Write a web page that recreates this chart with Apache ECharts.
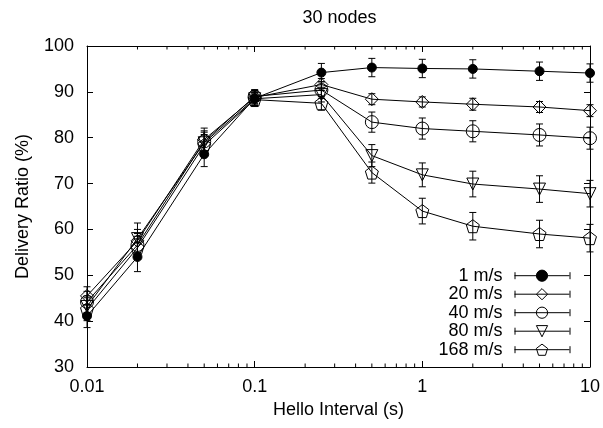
<!DOCTYPE html>
<html><head><meta charset="utf-8">
<script src="https://cdn.jsdelivr.net/npm/echarts@6/dist/echarts.min.js"></script>
<style>html,body{margin:0;padding:0;background:#fff}#c{width:603px;height:428px}</style>
</head><body><div id="c"></div>
<script>
// ---- data ----
const hello = [0.01, 0.02, 0.05, 0.1, 0.25, 0.5, 1, 2, 5, 10];
const speeds = ['1 m/s', '20 m/s', '40 m/s', '80 m/s', '168 m/s'];
const ratio1   = [41.1, 54.0, 76.4, 88.6, 94.2, 95.3, 95.1, 95.0, 94.5, 94.1];
const ratio20  = [45.5, 57.5, 79.6, 88.8, 91.6, 88.4, 87.8, 87.3, 86.7, 85.9];
const ratio40  = [44.2, 56.6, 79.2, 89.0, 90.4, 83.4, 82.0, 81.4, 80.6, 79.9];
const ratio80  = [43.2, 58.0, 78.9, 88.5, 89.4, 76.1, 71.9, 69.9, 68.8, 67.8];
const ratio168 = [42.6, 56.0, 78.4, 88.3, 87.5, 72.4, 64.0, 60.7, 59.0, 58.1];
const err1   = [2.5, 3.2, 2.7, 1.6, 2.0, 2.0, 2.0, 2.0, 2.0, 2.0];
const err20  = [2.0, 2.5, 2.5, 1.5, 1.3, 1.2, 1.1, 1.3, 1.2, 1.3];
const err40  = [2.3, 2.5, 2.3, 1.5, 1.8, 2.2, 2.3, 2.3, 2.4, 2.4];
const err80  = [2.3, 3.4, 2.3, 1.5, 1.6, 2.4, 2.6, 2.8, 2.9, 2.9];
const err168 = [2.5, 2.5, 2.3, 1.5, 1.5, 2.3, 2.8, 3.0, 3.0, 3.0];
const xMinorTicks = [0.02,0.03,0.04,0.05,0.06,0.07,0.08,0.09,0.2,0.3,0.4,0.5,0.6,0.7,0.8,0.9,2,3,4,5,6,7,8,9];
const yMin = 30, yMax = 100, yStep = 10;
const xMin = 0.01, xMax = 10;

// ---- styling / layout ----
const FONT = '"Liberation Sans", Arial, sans-serif';
const PENT = 'path://M0,-10 L9.51,-3.09 L5.88,8.09 L-5.88,8.09 L-9.51,-3.09 Z';
const ratios = [ratio1, ratio20, ratio40, ratio80, ratio168];
const errs = [err1, err20, err40, err80, err168];
const symbols = [
  {symbol: 'circle', size: 9, fill: '#000', rot: 0},
  {symbol: 'diamond', size: 13, fill: 'rgba(0,0,0,0)', rot: 0},
  {symbol: 'circle', size: 13, fill: 'rgba(0,0,0,0)', rot: 0},
  {symbol: 'triangle', size: 12, fill: 'rgba(0,0,0,0)', rot: 180},
  {symbol: PENT, size: 13, fill: 'rgba(0,0,0,0)', rot: 0}
];

function errRender(params, api) {
  const x = api.value(0), lo = api.value(1), hi = api.value(2);
  const p1 = api.coord([x, lo]), p2 = api.coord([x, hi]);
  const w = 3.5, st = {stroke: '#000', lineWidth: 1};
  return {type: 'group', children: [
    {type: 'line', shape: {x1: p1[0], y1: p1[1], x2: p2[0], y2: p2[1]}, style: st},
    {type: 'line', shape: {x1: p1[0]-w, y1: p1[1], x2: p1[0]+w, y2: p1[1]}, style: st},
    {type: 'line', shape: {x1: p2[0]-w, y1: p2[1], x2: p2[0]+w, y2: p2[1]}, style: st}
  ]};
}
function minorRender(params, api) {
  const v = api.value(0);
  const b = api.coord([v, yMin]), t = api.coord([v, yMax]);
  const L = 3.5, st = {stroke: '#000', lineWidth: 1};
  return {type: 'group', children: [
    {type: 'line', shape: {x1: b[0], y1: b[1], x2: b[0], y2: b[1]-L}, style: st},
    {type: 'line', shape: {x1: t[0], y1: t[1], x2: t[0], y2: t[1]+L}, style: st}
  ]};
}

const series = [];
speeds.forEach((name, i) => {
  series.push({
    type: 'custom', renderItem: errRender, z: 3,
    data: hello.map((x, j) => [x, ratios[i][j] - errs[i][j], ratios[i][j] + errs[i][j]]),
    encode: {x: 0, y: [1, 2]}, silent: true
  });
});
speeds.forEach((name, i) => {
  const s = symbols[i];
  series.push({
    name: name, type: 'line', z: 4,
    data: hello.map((x, j) => [x, ratios[i][j]]),
    symbol: s.symbol, symbolSize: s.size, symbolRotate: s.rot, showAllSymbol: true,
    lineStyle: {color: '#000', width: 1},
    itemStyle: {color: s.fill, borderColor: '#000', borderWidth: 1},
    emphasis: {disabled: true}
  });
});
series.push({type: 'custom', renderItem: minorRender, data: xMinorTicks.map(v => [v]), encode: {x: 0}, silent: true, z: 5});

const legendTop = 266.7, legendItemH = 14, legendGap = 0.5, legendRowH = 18, legendRight = 570, legendW = 55;
const capEls = [];
speeds.forEach((n, i) => {
  const cy = legendTop + legendRowH / 2 + i * (legendRowH + legendGap);
  [legendRight - legendW, legendRight].forEach(cx => capEls.push({
    type: 'line', shape: {x1: cx, y1: cy - 3.5, x2: cx, y2: cy + 3.5},
    style: {stroke: '#000', lineWidth: 1}, z: 100
  }));
});

const axisCommon = {
  axisLine: {show: true, lineStyle: {color: '#000', width: 1}},
  axisTick: {show: true, inside: true, length: 6, lineStyle: {color: '#000'}},
  splitLine: {show: false}
};
const chart = echarts.init(document.getElementById('c'), null, {renderer: 'canvas'});
chart.setOption({
  animation: false,
  backgroundColor: '#fff',
  textStyle: {fontFamily: FONT},
  grid: {left: 87, right: 11, top: 46, bottom: 61, show: false},
  xAxis: [
    Object.assign({}, axisCommon, {
      type: 'log', logBase: 10, min: xMin, max: xMax, position: 'bottom',
      name: 'Hello Interval (s)', nameLocation: 'middle', nameGap: 24,
      nameTextStyle: {fontSize: 18, color: '#000', fontFamily: FONT},
      axisLabel: {fontSize: 18, color: '#000', margin: 11, fontFamily: FONT,
        formatter: v => String(+(+v).toPrecision(3))}
    }),
    Object.assign({}, axisCommon, {
      type: 'log', logBase: 10, min: xMin, max: xMax, position: 'top',
      axisLabel: {show: false}
    })
  ],
  yAxis: [
    Object.assign({}, axisCommon, {
      type: 'value', min: yMin, max: yMax, interval: yStep, position: 'left',
      name: 'Delivery Ratio (%)', nameLocation: 'middle', nameGap: 55,
      nameTextStyle: {fontSize: 18, color: '#000', fontFamily: FONT},
      axisLabel: {fontSize: 18, color: '#000', margin: 13, fontFamily: FONT}
    }),
    Object.assign({}, axisCommon, {
      type: 'value', min: yMin, max: yMax, interval: yStep, position: 'right',
      axisLabel: {show: false}
    })
  ],
  legend: {
    data: speeds, orient: 'vertical', align: 'right',
    right: 603 - legendRight, top: legendTop, padding: 0,
    itemWidth: legendW, itemHeight: legendItemH, itemGap: legendGap,
    selectedMode: false,
    itemStyle: {borderWidth: 1, borderColor: '#000'},
    lineStyle: {width: 1, color: '#000'},
    textStyle: {fontSize: 18, color: '#000', fontFamily: FONT, padding: [0, 7, 0, 0]}
  },
  graphic: [
    {type: 'text', x: 339.5, y: 18, style: {text: '30 nodes', fontSize: 18, fontFamily: FONT, fill: '#000', textAlign: 'center', textVerticalAlign: 'middle'}}
  ].concat(capEls),
  series: series
});
</script></body></html>
